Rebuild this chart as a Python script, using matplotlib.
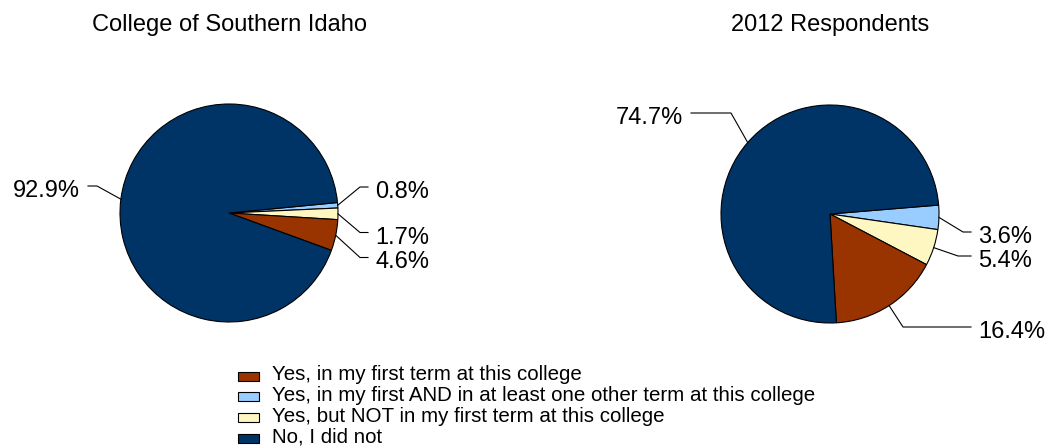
import numpy as np
import matplotlib
matplotlib.use("Agg")
import matplotlib.pyplot as plt
from matplotlib.patches import Rectangle

plt.rcParams['font.family'] = ['Liberation Sans', 'DejaVu Sans']

# data
categories = ["Yes, in my first AND in at least one other term at this college",
              "Yes, but NOT in my first term at this college",
              "Yes, in my first term at this college",
              "No, I did not"]
college_vals = [0.8, 1.7, 4.6, 92.9]
all_vals = [3.6, 5.4, 16.4, 74.7]
titles = ["College of Southern Idaho", "2012 Respondents"]
legend_order = [2, 0, 1, 3]
colors = ['#99CCFF', '#FFF7C2', '#993300', '#003366']

W, H = 1048, 448
fig = plt.figure(figsize=(W / 100, H / 100), dpi=100)
ax = fig.add_axes([0, 0, 1, 1])

# pie layout in pixel units (y measured from top)
centers = [(229, 213), (830, 214)]
radius = 109
starts = [5.5, 4.7]
# label text anchor (x, y, ha) and kink x for each slice
label_pos = [
    [(375, 192, 'left', 360), (375, 237.5, 'left', 360), (375, 262.5, 'left', 360), (80, 191, 'right', 97)],
    [(978, 237, 'left', 963), (978, 261, 'left', 958), (978, 332, 'left', 903), (683, 118, 'right', 731)],
]

for k, vals in enumerate([college_vals, all_vals]):
    cx, cy = centers[k]
    wedges, _ = ax.pie(vals, colors=colors, startangle=starts[k], counterclock=False,
                       center=(cx, H - cy), radius=radius,
                       wedgeprops=dict(edgecolor='black', linewidth=0.8))
    for w, v, (tx, ty, ha, kx) in zip(wedges, vals, label_pos[k]):
        mid = np.deg2rad((w.theta1 + w.theta2) / 2)
        ex = cx + radius * np.cos(mid)
        ey = (H - cy) + radius * np.sin(mid)
        ky = H - ty + 5
        endx = tx - 7 if ha == 'left' else tx + 8
        ax.plot([ex, kx, endx], [ey, ky, ky], color='black', lw=0.8)
        ax.text(tx, H - ty, "%.1f%%" % v, ha=ha, va='center', fontsize=17)
    ax.text(cx, H - 25, titles[k], ha='center', va='center', fontsize=17)

# legend, drawn by hand so the rows keep the tight spacing
base0, step = 380.5, 20.8
for row, i in enumerate(legend_order):
    base = base0 + row * step
    ax.add_patch(Rectangle((238, H - base), 21, 9, facecolor=colors[i],
                           edgecolor='black', linewidth=0.8))
    ax.text(272, H - base, categories[i], ha='left', va='baseline', fontsize=14.8)

ax.set_xlim(0, W)
ax.set_ylim(0, H)
ax.set_aspect('equal')
ax.axis('off')

fig.savefig('out.png', dpi=100)
